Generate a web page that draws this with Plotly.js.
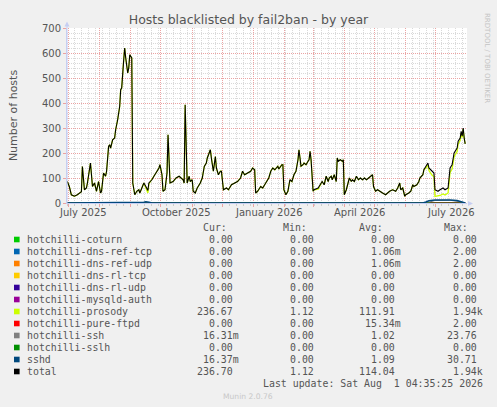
<!DOCTYPE html>
<html><head><meta charset="utf-8">
<script src="https://cdn.plot.ly/plotly-3.0.1.min.js"></script>
<style>html,body{margin:0;padding:0;background:#f0f0f0;}</style>
</head><body><div id="chart" style="width:497px;height:407px;"></div>
<script>
// ---------- data ----------
const startDateUTC = Date.UTC(2025, 6, 1); // 1 July 2025 = day 0
const dayOffsets = [
 -1,1,3,6,9,11,13,14,16,18,19,22,24,26,28,30,32,33,35,37,38,40,41,42,44,46,47,49,51,52,
 53,55,56,57,59,60,61,63,64,66,68,70,71,73,75,77,79,80,83,85,87,90,91,93,94,96,98,99,101,104,
 107,110,114,115,116,118,120,121,123,124,126,128,131,133,135,137,138,141,142,144,146,147,149,151,152,154,157,159,162,165,
 168,171,173,175,178,181,183,185,186,188,191,193,196,
 199,201,203,205,208,209,212,213,214,216,218,220,222,224,226,228,229,231,233,234,236,238,239,240,241,243,244,248,250,252,
 254,256,258,259,261,262,264,266,267,268,270,272,273,274,276,277,279,281,282,284,286,288,290,292,294,296,298,300,302,303,
 305,307,309,312,315,317,319,322,325,327,329,330,332,334,335,338,340,342,343,346,348,349,352,353,355,357,358,361,363,364,
 367,369,372,374,377,378,379,381,383,386,387,389,390,391,392,393,394];
const totalValues = [
 86,66,33,27,33,40,45,146,53,60,80,160,66,80,47,86,40,47,120,107,127,226,233,220,253,260,293,333,386,453,
 460,573,620,580,520,540,593,580,80,33,47,53,40,60,80,66,50,80,93,107,120,140,153,113,47,53,120,273,80,86,
 100,107,93,80,393,80,107,86,93,47,40,60,80,100,146,160,180,213,180,127,186,140,113,127,127,53,60,53,73,80,
 86,100,127,113,120,127,140,133,40,47,66,60,80,
 100,127,140,133,147,136,153,153,53,33,47,93,86,113,127,173,213,147,153,160,153,167,173,207,173,47,53,60,73,86,
 73,107,86,100,107,93,113,86,180,167,173,167,173,33,53,73,100,86,93,86,107,93,100,93,100,93,100,107,113,66,
 47,53,47,40,33,40,47,53,47,60,80,53,60,27,33,40,47,73,66,73,86,100,113,133,147,160,140,127,120,53,
 47,53,60,53,60,100,140,153,200,220,247,260,287,267,300,260,236.7];
const prosodyValues = [
 86,66,33,27,33,40,45,146,53,60,80,160,66,80,47,86,40,47,120,107,127,226,233,220,253,260,293,333,386,453,
 460,573,620,580,520,540,593,580,80,33,47,53,40,60,80,60,40,76,93,107,120,140,153,113,47,53,120,273,80,86,
 100,107,93,80,393,80,107,86,93,47,40,60,80,100,146,160,180,213,180,127,186,140,113,127,127,53,60,53,73,80,
 86,100,127,113,120,127,140,133,40,47,66,60,80,
 100,127,140,133,147,136,153,153,53,33,47,93,86,113,127,173,213,147,153,160,153,167,173,207,173,47,53,55,73,86,
 73,107,86,100,107,93,113,86,180,167,173,167,173,33,53,73,100,86,93,86,107,93,100,93,100,93,100,107,113,66,
 47,53,47,40,33,40,47,53,47,60,80,53,60,27,33,40,47,73,66,73,86,100,113,133,140,152,130,112,105,26,
 28,30,36,32,40,82,122,136,185,206,236,250,280,262,296,258,236.67];
const sshdDays   = [-1,73,75,77,79,80,83,244,246,248,250,256,258,261,264,267,270,272,352,355,358,364,372,379,386,390,393,394];
const sshdValues = [ 0, 0, 3, 5, 5, 3, 0,  0,  3,  2,  0,  0,  2,  3,  3,  2,  2,  0,  0,  4,  9, 12, 13, 12, 10,  6,  1,  0];
const sshDays    = [-1,355,364,379,390,394];
const sshValues  = [ 0,  0, 10, 11,  4,  0];

const seriesNames = ['hotchilli-coturn','hotchilli-dns-ref-tcp','hotchilli-dns-ref-udp','hotchilli-dns-rl-tcp',
 'hotchilli-dns-rl-udp','hotchilli-mysqld-auth','hotchilli-prosody','hotchilli-pure-ftpd','hotchilli-ssh',
 'hotchilli-sslh','sshd','total'];
const seriesColors = ['#00CC00','#0066B3','#FF8000','#FFCC00','#330099','#990099','#CCFF00','#FF0000','#808080',
 '#008F00','#00487D','#000000'];
const curValues = ['0.00','0.00','0.00','0.00','0.00','0.00','236.67','0.00','16.31m','0.00','16.37m','236.70'];
const minValues = ['0.00','0.00','0.00','0.00','0.00','0.00','1.12','0.00','0.00','0.00','0.00','1.12'];
const avgValues = ['0.00','1.06m','1.06m','0.00','0.00','0.00','111.91','15.34m','1.02','0.00','1.09','114.04'];
const maxValues = ['0.00','2.00','2.00','0.00','0.00','0.00','1.94k','2.00','23.76','0.00','30.71','1.94k'];
const columnHeaders = ['Cur:','Min:','Avg:','Max:'];
const monthLabels = ['July 2025','October 2025','January 2026','April 2026','July 2026'];
const monthLabelDates = ['2025-07-16','2025-10-16','2026-01-16','2026-04-16','2026-07-16'];

// ---------- helpers ----------
const toDate = d => new Date(startDateUTC + d * 864e5).toISOString().slice(0, 10);
const L = 67, T = 28, PW = 400, PH = 175;
const px = x => (x - L) / PW, py = y => (T + PH - y) / PH;
const mono = {family: 'DejaVu Sans Mono', size: 9.9, color: '#555'};
const sans = {family: 'DejaVu Sans', size: 10, color: '#555'};

const dates = dayOffsets.map(toDate);
const firstDate = dates[0], lastDate = dates[dates.length - 1];

const traces = [];
seriesNames.forEach((name, i) => {
  let x, y, w = 1;
  if (name === 'hotchilli-prosody') { x = dates; y = prosodyValues; w = 1.3; }
  else if (name === 'total') { x = dates; y = totalValues; w = 1.1; }
  else if (name === 'sshd') { x = sshdDays.map(toDate); y = sshdValues; w = 1.5; }
  else if (name === 'hotchilli-ssh') { x = sshDays.map(toDate); y = sshValues; }
  else { x = [firstDate, lastDate]; y = [0, 0]; }
  traces.push({type: 'scatter', mode: 'lines', name, x, y, hoverinfo: 'skip',
    line: {color: seriesColors[i], width: w}});
});

// ---------- annotations / legend ----------
const ann = [];
const cell = (x, y, text, anchor, font) => ({xref: 'paper', yref: 'paper', x: px(x), y: py(y), text,
  showarrow: false, xanchor: anchor, yanchor: 'middle', borderpad: 0, borderwidth: 0, font: font || mono});
const nb = '\u00a0';
const fmt = s => /[a-z]$/i.test(s) ? s : s + nb;

const headerRight = [226.7, 306.7, 383.3, 468.3];
columnHeaders.forEach((h, i) => ann.push(cell(headerRight[i], 227.5, h, 'right')));
const colRight = [239, 320, 401, 483];
const shapes = [];
seriesNames.forEach((name, i) => {
  const ry = 239.5 + 12 * i;
  ann.push(cell(26.5, ry, name, 'left'));
  [curValues, minValues, avgValues, maxValues].forEach((col, c) => ann.push(cell(colRight[c], ry, fmt(col[i]), 'right')));
  shapes.push({type: 'rect', xref: 'paper', yref: 'paper', x0: px(14), x1: px(19.6), y0: py(ry + 2.8), y1: py(ry - 2.8),
    fillcolor: seriesColors[i], line: {width: 0}});
});
ann.push(cell(483, 383.5, 'Last update: Sat Aug' + nb + nb + '1 04:35:25 2026', 'right'));
ann.push(cell(248, 396.5, 'Munin 2.0.76', 'center', {family: 'DejaVu Sans', size: 7.6, color: '#c8c8c8'}));
ann.push(Object.assign(cell(487, 58, 'RRDTOOL / TOBI OETIKER', 'center', {family: 'DejaVu Sans', size: 7, color: '#c4c4c4'}), {textangle: 90}));
monthLabels.forEach((lab, i) => ann.push({xref: 'x', yref: 'paper', x: monthLabelDates[i], y: py(212.5), text: lab,
  showarrow: false, xanchor: 'center', yanchor: 'middle', borderpad: 0, borderwidth: 0, font: sans}));

// axis arrows
const axisBlue = '#c6cef2';
shapes.push({type: 'line', xref: 'paper', yref: 'paper', x0: px(67), x1: px(67), y0: py(203), y1: py(24), line: {color: axisBlue, width: 1}});
shapes.push({type: 'path', xref: 'paper', yref: 'paper', path:
  `M ${px(64.5)} ${py(26.5)} L ${px(67)} ${py(21.5)} L ${px(69.5)} ${py(26.5)} Z`, fillcolor: axisBlue, line: {width: 0}});
shapes.push({type: 'path', xref: 'paper', yref: 'paper', path:
  `M ${px(468)} ${py(201)} L ${px(473)} ${py(203.5)} L ${px(468)} ${py(206)} Z`, fillcolor: axisBlue, line: {width: 0}});

const majorGrid = '#eba3a3', minorGrid = '#d9d9d9', dots = '1px,1px';
const layout = {
  width: 497, height: 407,
  margin: {l: L, r: 497 - L - PW, t: T, b: 407 - T - PH, pad: 0},
  paper_bgcolor: '#f0f0f0', plot_bgcolor: '#ffffff',
  showlegend: false, hovermode: false,
  title: {text: 'Hosts blacklisted by fail2ban - by year', font: {family: 'DejaVu Sans', size: 12.5, color: '#555'},
    x: 0.5, xref: 'container', y: 1 - 19.5 / 407, yref: 'container', yanchor: 'middle'},
  xaxis: {type: 'date', range: ['2025-06-29 17:00', '2026-07-31 19:00'], tick0: '2025-07-01', dtick: 'M1',
    showticklabels: false, showgrid: true, gridcolor: majorGrid, griddash: dots, gridwidth: 1,
    ticks: 'outside', ticklen: 3, tickcolor: majorGrid, showline: true, linecolor: axisBlue, linewidth: 1,
    zeroline: false, fixedrange: true,
    minor: {tick0: '2025-06-30', dtick: 7 * 864e5, showgrid: true, gridcolor: minorGrid, griddash: dots,
      ticks: 'outside', ticklen: 2, tickcolor: '#cccccc'}},
  yaxis: {range: [0, 700], tick0: 0, dtick: 100, showgrid: true, gridcolor: majorGrid, griddash: dots,
    ticks: 'outside', ticklen: 3, tickcolor: majorGrid, showline: true, linecolor: axisBlue, linewidth: 1,
    zeroline: false, fixedrange: true, tickfont: sans,
    title: {text: 'Number of hosts', font: {family: 'DejaVu Sans', size: 11, color: '#555'}, standoff: 22},
    minor: {tick0: 0, dtick: 20, showgrid: true, gridcolor: minorGrid, griddash: dots}},
  annotations: ann, shapes
};
Plotly.newPlot('chart', traces, layout, {displayModeBar: false, staticPlot: true});
</script></body></html>
